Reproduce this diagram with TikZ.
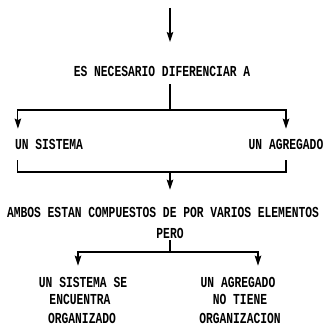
\documentclass[tikz,border=0pt]{standalone}
\usepackage{fontspec}
\usepackage{graphicx}
\setmonofont{Liberation Mono}
\usetikzlibrary{arrows.meta,calc}
\newcommand\tall[1]{\scalebox{1}[1.35]{#1}}
\begin{document}
\begin{tikzpicture}[x=1pt,y=-1pt,
 lbl/.style={font=\ttfamily\bfseries\fontsize{11.3}{14}\selectfont, inner sep=0pt},
 ln/.style={line width=1.2pt},
 arr/.style={ln,-{Stealth[length=10pt,width=6.5pt,inset=1.5pt]}}]
\useasboundingbox (0,0) rectangle (325,334);
% texts
\node[lbl] (es) at (162,71) {\tall{ES NECESARIO DIFERENCIAR A}};
\node[lbl] (sis) at (49,144) {\tall{UN SISTEMA}};
\node[lbl] (agr) at (286,144) {\tall{UN AGREGADO}};
\node[lbl] (ambos) at (163,212) {\tall{AMBOS ESTAN COMPUESTOS DE POR VARIOS ELEMENTOS}};
\node[lbl] (pero) at (170,233) {\tall{PERO}};
\node[lbl] (s1) at (83,282) {\tall{UN SISTEMA SE}};
\node[lbl] (s2) at (80,299) {\tall{ENCUENTRA}};
\node[lbl] (s3) at (82,318) {\tall{ORGANIZADO}};
\node[lbl] (a1) at (238,282) {\tall{UN AGREGADO}};
\node[lbl] (a2) at (240,299) {\tall{NO TIENE}};
\node[lbl] (a3) at (240,318) {\tall{ORGANIZACION}};
% connectors
\coordinate (start) at (170,8);
\coordinate (t0) at (170,42);
\draw[arr] (start) -- (t0);
\coordinate (j1) at (170,110);
\draw[ln,shorten <=8pt] (es.south -| j1) -- (j1);
\draw[arr,shorten >=10pt] (j1) -| ($(sis.north west)+(3,0)$);
\draw[arr,shorten >=10pt] (j1) -| (agr.north);
\coordinate (j2) at (170,172);
\draw[ln] ($(sis.south west)+(3,11)$) |- (j2) -| ($(agr.south)+(0,11)$);
\draw[arr,shorten >=17pt] (j2) -- (j2 |- ambos.north);
\coordinate (j3) at (170,252);
\draw[ln,shorten <=2pt] (pero.south) -- (j3);
\draw[arr,shorten >=11pt] (j3) -| ($(s1.north)+(-5,0)$);
\draw[arr,shorten >=11pt] (j3) -| ($(a1.north)+(20,0)$);
\end{tikzpicture}
\end{document}
